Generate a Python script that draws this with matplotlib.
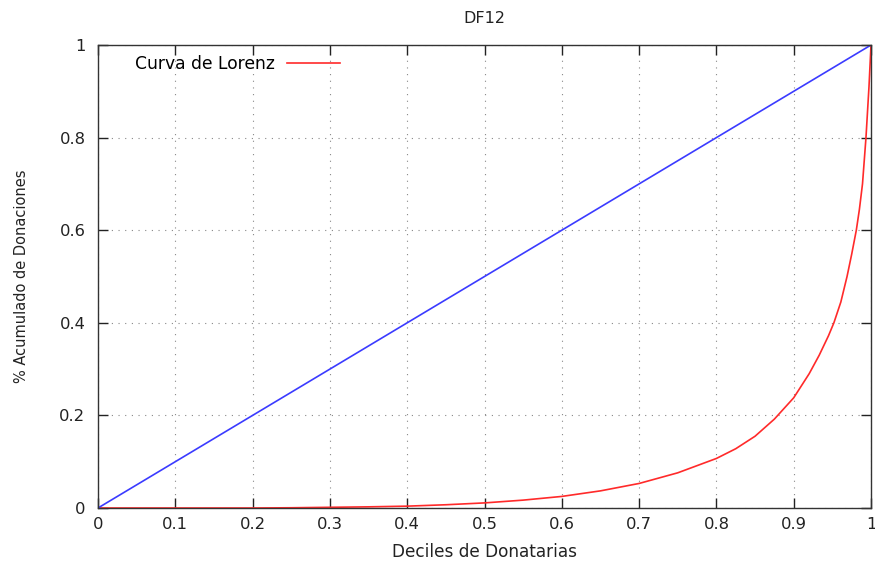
import matplotlib
matplotlib.use("Agg")
import matplotlib.pyplot as plt
from matplotlib.ticker import FixedLocator, FuncFormatter

# Lorenz curve: cumulative share of donations by decile of recipients
deciles = [0.0, 0.1, 0.2, 0.25, 0.3, 0.35, 0.4, 0.45, 0.5, 0.55, 0.6, 0.65,
           0.7, 0.75, 0.8, 0.825, 0.85, 0.875, 0.9, 0.92, 0.933, 0.945,
           0.952, 0.961, 0.969, 0.975, 0.981, 0.985, 0.989, 0.9935, 0.9974,
           1.0]
cum_share = [0.0, 0.0, 0.0, 0.0005, 0.0015, 0.0025, 0.004, 0.007, 0.011,
             0.017, 0.025, 0.037, 0.053, 0.076, 0.107, 0.128, 0.155, 0.192,
             0.238, 0.290, 0.330, 0.372, 0.400, 0.445, 0.500, 0.548, 0.600,
             0.645, 0.700, 0.800, 0.910, 1.0]

# Line of perfect equality
equality_x = [0.0, 1.0]
equality_y = [0.0, 1.0]

x_ticks = [0, 0.1, 0.2, 0.3, 0.4, 0.5, 0.6, 0.7, 0.8, 0.9, 1]
y_ticks = [0, 0.2, 0.4, 0.6, 0.8, 1]

TXT = '#222222'

plt.rcParams['font.family'] = ['DejaVu Sans']
fig = plt.figure(figsize=(8.75, 5.63), dpi=100)
ax = fig.add_axes([98 / 875, 55 / 563, 773 / 875, 463 / 563])

ax.plot(deciles, cum_share, color='#ff2a2a', lw=1.2, label='Curva de Lorenz',
        solid_joinstyle='round')
ax.plot(equality_x, equality_y, color='#3b3bff', lw=1.2)

ax.set_xlim(0, 1)
ax.set_ylim(0, 1)
ax.xaxis.set_major_locator(FixedLocator(x_ticks))
ax.yaxis.set_major_locator(FixedLocator(y_ticks))
fmt = FuncFormatter(lambda v, p: '%g' % v)
ax.xaxis.set_major_formatter(fmt)
ax.yaxis.set_major_formatter(fmt)

ax.tick_params(direction='in', length=7, width=1, top=True, right=True,
               labelsize=11.8, color=TXT, labelcolor=TXT)
ax.tick_params(axis='x', pad=6.5)
ax.tick_params(axis='y', pad=9)

ax.grid(True, linestyle=(0, (1, 5)), lw=0.8, color='#888888')
for s in ax.spines.values():
    s.set_color('#333333')
    s.set_linewidth(1.0)

ax.set_title('DF12', fontsize=11.5, color=TXT, pad=16)
ax.set_xlabel('Deciles de Donatarias', fontsize=12.2, color=TXT, labelpad=8)
ax.set_ylabel('% Acumulado de Donaciones', fontsize=10.5, color=TXT, labelpad=22)

ax.legend(loc='upper left', bbox_to_anchor=(0.035, 1.0), frameon=False,
          markerfirst=False, handlelength=3.1, handletextpad=0.7,
          fontsize=12.3, borderaxespad=0.2)

fig.savefig('out.png', dpi=100)
